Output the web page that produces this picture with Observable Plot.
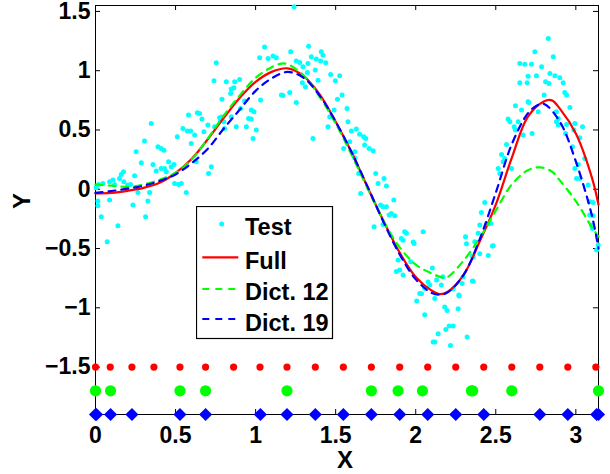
<!DOCTYPE html>
<html><head><meta charset="utf-8">
<script src="https://cdn.jsdelivr.net/npm/d3@7"></script>
<script src="https://cdn.jsdelivr.net/npm/@observablehq/plot@0.6"></script>
<style>
html,body{margin:0;padding:0;background:#fff;}
#wrap{position:relative;width:610px;height:474px;font-family:"Liberation Sans",Arial,sans-serif;}
#legend{position:absolute;left:196px;top:206px;}
</style></head><body><div id="wrap"></div>
<script>
const xTicks = [0, 0.5, 1, 1.5, 2, 2.5, 3];
const yTicks = [-1.5, -1, -0.5, 0, 0.5, 1, 1.5];

const testX = [0.004,0.019,0.046,0.015,0.015,0.036,0.073,0.088,0.088,0.109,0.119,0.14,0.15,0.161,0.175,0.177,0.2,0.219,0.234,0.244,0.254,0.265,0.286,0.306,0.313,0.327,0.338,0.348,0.359,0.379,0.39,0.41,0.41,0.427,0.431,0.442,0.456,0.473,0.49,0.494,0.511,0.519,0.536,0.546,0.567,0.573,0.581,0.594,0.598,0.619,0.629,0.636,0.65,0.677,0.702,0.706,0.723,0.744,0.775,0.786,0.802,
0.754,0.74,0.817,0.869,0.848,0.844,0.865,0.9,0.79,0.931,1.031,0.973,0.956,0.973,0.848,0.665,0.781,0.806,0.879,0.942,1.004,0.906,0.984,0.99,
1.056,1.025,1.078,1.109,1.129,1.219,1.24,1.161,1.171,1.213,1.254,1.254,1.275,1.296,1.331,1.327,1.348,1.379,1.41,1.421,1.406,1.438,1.373,1.323,1.292,1.311,1.39,1.469,1.498,1.525,1.511,1.49,1.463,1.54,
1.358,1.452,1.571,1.577,1.598,1.629,1.65,1.675,1.688,1.55,1.588,1.619,1.619,1.681,1.709,1.734,1.644,1.656,1.75,1.802,1.817,1.765,1.863,1.781,1.796,1.817,1.848,1.869,1.834,1.74,1.796,1.931,1.942,2.046,1.99,1.91,1.921,1.984,1.89,1.9,1.879,1.921,1.969,
2.025,2.056,2.088,2.13,2.16,2.17,2.006,2.119,2.036,2.056,2.104,2.077,2.109,2.119,2.14,2.188,2.209,2.234,2.217,2.181,2.196,2.265,2.271,2.234,2.321,2.359,2.296,2.29,2.269,2.354,2.359,2.352,2.4,2.453,2.479,2.317,2.311,2.369,2.39,2.4,2.41,2.431,2.469,2.442,2.484,
2.515,2.525,2.536,2.546,2.556,2.567,2.577,2.588,2.598,2.615,2.623,2.623,2.64,2.65,2.65,2.661,2.671,2.681,2.696,2.702,2.702,2.706,2.723,2.727,2.744,2.754,2.765,2.786,2.802,2.811,2.828,2.832,2.838,2.859,2.869,2.879,2.879,2.89,2.89,2.9,2.921,2.931,2.936,2.942,2.942,2.963,2.979,2.988,2.994,2.994,3.004,3.015,3.025,3.025,3.042,3.056,3.077,3.087,3.087,3.108,3.108,3.098,3.104,3.13,3.14];
const testY = [0.013,0.04,0.049,-0.1,-0.139,-0.232,-0.443,-0.091,0.063,0.078,0.04,-0.308,0.091,0.125,0.148,0.063,0.035,0.04,-0.133,0.114,0.316,-0.027,0.223,0.406,-0.232,-0.1,-0.027,0.555,0.209,0.153,0.358,0.344,0.175,0.33,0.175,0.148,0.232,0.19,0.209,0.049,0.443,0.04,0.049,0.513,-0.027,0.491,0.626,0.491,0.386,0.457,0.232,0.645,0.64,0.485,0.541,0.133,0.19,0.527,0.603,0.61,0.569,
1.067,0.915,0.906,0.906,0.845,0.808,0.856,0.926,0.76,0.744,0.752,0.668,0.597,0.592,0.611,0.592,0.583,0.513,0.527,0.527,0.499,0.681,0.428,0.653,
1.2,1.109,1.103,1.123,1.109,1.159,1.539,0.794,0.79,0.816,0.732,1.081,1.069,1.033,1.207,1.061,1.117,1.098,1.159,1.131,1.081,1.067,1.005,0.985,0.898,0.864,0.92,0.968,0.915,0.957,0.76,0.668,0.611,0.794,
0.428,0.527,0.681,0.569,0.491,0.508,0.465,0.443,0.428,0.344,0.4,0.316,0.266,0.373,0.344,0.325,0.133,-0.035,0.133,0.091,0.027,0.049,-0.091,-0.133,-0.148,-0.148,-0.204,-0.223,-0.218,-0.316,-0.297,-0.358,-0.372,-0.358,-0.457,-0.415,-0.431,-0.445,-0.597,-0.681,-0.693,-0.724,-0.611,
-0.879,-0.836,-0.808,-0.766,-0.808,-0.738,-0.943,-0.921,-0.881,-1.058,-0.664,-0.782,-1.288,-1.288,-1.218,-1.182,-1.154,-1.154,-1.317,-0.994,-1.022,-1.008,-0.9,-0.839,-1.246,-0.777,-0.741,-0.794,-0.892,-0.774,-0.572,-0.561,-0.544,-0.558,-0.479,-0.46,-0.4,-0.443,-0.372,-0.302,-0.196,-0.111,-0.288,-0.297,-0.476,
0.175,0.133,0.294,0.232,0.26,0.378,0.592,0.569,0.175,0.527,0.499,0.704,0.569,0.898,1.061,0.668,0.457,1.055,0.898,0.954,0.738,0.732,1.055,0.47,1.159,0.957,0.653,1.033,0.794,0.906,1.272,0.892,0.977,1.117,0.957,0.569,0.653,0.541,0.597,0.94,0.898,0.816,0.47,0.794,0.547,0.69,0.358,0.499,0.555,0.175,0.091,0.209,0.434,0.091,0.527,0.26,0.035,-0.105,-0.218,-0.111,-0.223,-0.302,-0.33,-0.513,-0.47];

const fullX = [0,0.1,0.2,0.3,0.4,0.5,0.6,0.7,0.8,0.9,1.0,1.1,1.2,1.3,1.4,1.5,1.6,1.7,1.8,1.9,2.0,2.1,2.15,2.2,2.3,2.4,2.5,2.6,2.7,2.8,2.85,2.9,3.0,3.1,3.1416];
const fullY = [-0.035,-0.03,-0.013,0.012,0.055,0.137,0.255,0.42,0.6,0.77,0.905,0.99,1.02,0.955,0.80,0.57,0.31,0.015,-0.27,-0.535,-0.74,-0.855,-0.885,-0.865,-0.72,-0.44,-0.13,0.265,0.61,0.74,0.75,0.68,0.47,0.1,-0.13];

const dict12X = [0,0.1,0.2,0.3,0.4,0.5,0.6,0.7,0.8,0.9,1.0,1.1,1.16,1.2,1.3,1.4,1.5,1.6,1.7,1.8,1.9,2.0,2.1,2.17,2.2,2.3,2.4,2.5,2.6,2.7,2.78,2.85,2.9,3.0,3.1,3.1416];
const dict12Y = [0.04,0.03,0.02,0.04,0.08,0.14,0.25,0.425,0.62,0.79,0.94,1.03,1.06,1.055,0.96,0.78,0.555,0.29,0.005,-0.27,-0.49,-0.635,-0.71,-0.745,-0.74,-0.6,-0.41,-0.18,0.04,0.16,0.185,0.15,0.075,-0.1,-0.32,-0.4];

const dict19X = [0,0.1,0.2,0.3,0.4,0.5,0.6,0.7,0.8,0.9,1.0,1.1,1.2,1.3,1.4,1.5,1.6,1.7,1.8,1.9,2.0,2.1,2.15,2.2,2.3,2.4,2.5,2.6,2.7,2.75,2.8,2.9,3.0,3.1,3.1416];
const dict19Y = [-0.03,-0.015,0.005,0.03,0.07,0.125,0.22,0.34,0.51,0.67,0.83,0.935,0.99,0.94,0.79,0.57,0.31,0.02,-0.28,-0.55,-0.76,-0.875,-0.89,-0.87,-0.72,-0.42,-0.03,0.38,0.64,0.70,0.72,0.57,0.235,-0.22,-0.5];

const fullCentersX = [0,0.092,0.2275,0.365,0.5275,0.6875,0.8625,1.0275,1.196,1.373,1.548,1.723,1.9,2.075,2.25,2.425,2.6,2.775,2.95,3.125];
const dict12CentersX = [0,0.094,0.5275,0.6875,1.196,1.723,1.89,2.042,2.348,2.356,2.6,3.1416];
const dict19CentersX = [0,0.006,0.094,0.2275,0.5275,0.6875,1.03,1.196,1.373,1.548,1.723,1.9,2.075,2.25,2.425,2.775,2.95,3.13,3.1416];
const rowLevels = {full: -1.5, dict12: -1.7, dict19: -1.9};

const zip = (xs, ys) => xs.map((x, i) => ({x, y: ys[i]}));
const test = zip(testX, testY);
const full = zip(fullX, fullY);
const dict12 = zip(dict12X, dict12Y);
const dict19 = zip(dict19X, dict19Y);

const W = 610, H = 474, mL = 95, mR = 12, mT = 5, mB = 60;
const fw = W - mL - mR, fh = H - mT - mB, tk = 5;
const fmt = d => (d < 0 ? "\u2212" : "") + Math.abs(d);

const plot = Plot.plot({
  width: W, height: H, marginLeft: mL, marginRight: mR, marginTop: mT, marginBottom: mB,
  x: {domain: [0, Math.PI]},
  y: {domain: [-1.9, 1.55]},
  style: {fontFamily: "'Liberation Sans', Arial, sans-serif", fontSize: "23px", fontWeight: "bold", background: "white", color: "black", overflow: "visible"},
  marks: [
    Plot.frame({stroke: "black", strokeWidth: 1}),
    Plot.tickX(xTicks, {x: d => d, insetTop: fh - tk, stroke: "black"}),
    Plot.tickX(xTicks, {x: d => d, insetBottom: fh - tk, stroke: "black"}),
    Plot.tickY(yTicks, {y: d => d, insetRight: fw - tk, stroke: "black"}),
    Plot.tickY(yTicks, {y: d => d, insetLeft: fw - tk, stroke: "black"}),
    Plot.axisX({anchor: "bottom", ticks: xTicks, tickSize: 0, tickPadding: 12, tickFormat: fmt, label: null}),
    Plot.axisY({anchor: "left", ticks: yTicks, tickSize: 0, tickPadding: 5, tickFormat: fmt, label: null}),
    Plot.text(["X"], {text: d => d, frameAnchor: "bottom", lineAnchor: "top", dy: 36, dx: -2, fontSize: 24}),
    Plot.text(["Y"], {text: d => d, frameAnchor: "left", dx: -73, dy: -1, rotate: -90, fontSize: 24}),
    Plot.dot(test, {x: "x", y: "y", r: 2.5, fill: "#00ffff", stroke: null}),
    Plot.line(full, {x: "x", y: "y", stroke: "#ff0000", strokeWidth: 2.2, curve: "catmull-rom"}),
    Plot.line(dict12, {x: "x", y: "y", stroke: "#00ff00", strokeWidth: 2.2, strokeDasharray: "7,6", curve: "catmull-rom"}),
    Plot.line(dict19, {x: "x", y: "y", stroke: "#0000ff", strokeWidth: 2.2, strokeDasharray: "7,6", curve: "catmull-rom"}),
    Plot.dot(fullCentersX, {x: d => d, y: () => rowLevels.full, r: 3.6, fill: "#ff0000", stroke: null}),
    Plot.dot(dict12CentersX, {x: d => d, y: () => rowLevels.dict12, r: 5.6, fill: "#00ff00", stroke: null}),
    Plot.dot(dict19CentersX, {x: d => d, y: () => rowLevels.dict19, r: 5.9, symbol: "diamond2", fill: "#0000ff", stroke: null})
  ]
});

const wrap = document.getElementById("wrap");
wrap.appendChild(plot);

const legendItems = [
  {label: "Test", kind: "dot", color: "#00ffff", cy: 18, base: 29},
  {label: "Full", kind: "line", color: "#ff0000", cy: 51.3, base: 63.3, dash: null},
  {label: "Dict. 12", kind: "line", color: "#00ff00", cy: 83, base: 94, dash: "7,6"},
  {label: "Dict. 19", kind: "line", color: "#0000ff", cy: 113, base: 124.7, dash: "7,6"}
];
const NS = "http://www.w3.org/2000/svg";
const lg = document.createElementNS(NS, "svg");
lg.setAttribute("id", "legend");
lg.setAttribute("width", 138); lg.setAttribute("height", 134);
const box = document.createElementNS(NS, "rect");
Object.entries({x: 0.5, y: 0.5, width: 136, height: 132, fill: "white", stroke: "black", "stroke-width": 1.2}).forEach(([k, v]) => box.setAttribute(k, v));
lg.appendChild(box);
for (const it of legendItems) {
  if (it.kind === "dot") {
    const c = document.createElementNS(NS, "circle");
    Object.entries({cx: 25.7, cy: it.cy, r: 2.5, fill: it.color}).forEach(([k, v]) => c.setAttribute(k, v));
    lg.appendChild(c);
  } else {
    const l = document.createElementNS(NS, "line");
    Object.entries({x1: 6.3, x2: 42.3, y1: it.cy, y2: it.cy, stroke: it.color, "stroke-width": 2.2}).forEach(([k, v]) => l.setAttribute(k, v));
    if (it.dash) l.setAttribute("stroke-dasharray", it.dash);
    lg.appendChild(l);
  }
  const t = document.createElementNS(NS, "text");
  Object.entries({x: 49, y: it.base, "font-family": "'Liberation Sans', Arial, sans-serif", "font-size": 23.5, "font-weight": "bold", fill: "black"}).forEach(([k, v]) => t.setAttribute(k, v));
  t.textContent = it.label;
  lg.appendChild(t);
}
wrap.appendChild(lg);
</script>
</body></html>
